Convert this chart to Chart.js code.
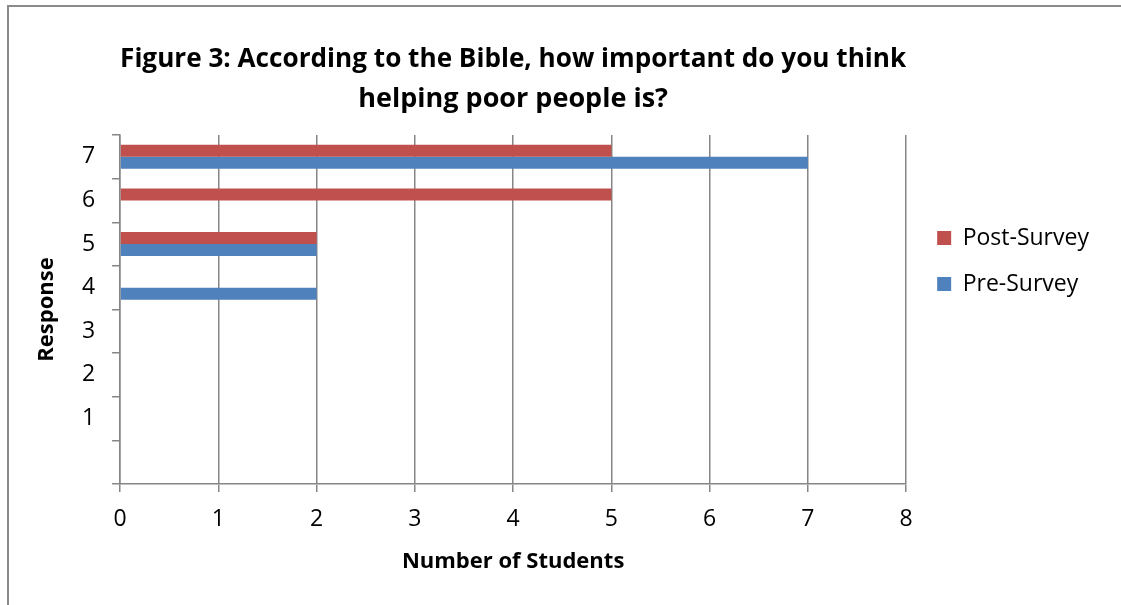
<!DOCTYPE html>
<html>
<head>
<meta charset="utf-8">
<script src="https://cdn.jsdelivr.net/npm/chart.js@4"></script>
<style>
    html, body { margin: 0; background: #fff; overflow: hidden; }
    #wrap { position: relative; width: 1121px; height: 605px; overflow: hidden; }
    #frame {
        position: absolute; left: 7px; top: 5px; width: 1130px; height: 620px;
        border-left: 2px solid #8a8a8a; border-top: 2px solid #8a8a8a;
    }
    #chart { position: absolute; left: 0; top: 0; }
</style>
</head>
<body>
<div id="wrap">
    <div id="frame"></div>
    <canvas id="chart" width="1121" height="605"></canvas>
</div>
<script>
// responses from top to bottom (last slot is an empty category)
const responses = ['7', '6', '5', '4', '3', '2', '1', ''];
const postSurvey = [5, 5, 2, 0, 0, 0, 0, 0];
const preSurvey = [7, 0, 2, 2, 0, 0, 0, 0];
const xTicksMax = 8;

const gridGrey = '#868686';
Chart.defaults.color = '#000';
Chart.defaults.font.family = "'Open Sans', sans-serif";

const ctx = document.getElementById("chart").getContext("2d");

new Chart(ctx, {
    type: 'bar',
    data: {
        labels: responses,
        datasets: [
            {
                label: 'Post-Survey',
                data: postSurvey,
                backgroundColor: '#C0504D',
                barPercentage: 1,
                categoryPercentage: 0.55
            },
            {
                label: 'Pre-Survey',
                data: preSurvey,
                backgroundColor: '#4F81BD',
                barPercentage: 1,
                categoryPercentage: 0.55
            }
        ]
    },
    options: {
        indexAxis: 'y',
        responsive: false,
        animation: false,
        layout: { padding: { left: 10, right: 26, top: 0, bottom: 0 } },
        plugins: {
            tooltip: { enabled: false },
            title: {
                display: true,
                fullSize: false,
                text: ['Figure 3: According to the Bible, how important do you think', 'helping poor people is?'],
                font: { size: 27, weight: 'bold', lineHeight: 40 / 27 },
                color: '#000',
                padding: { top: 39.5, bottom: 15.5 }
            },
            legend: {
                position: 'right',
                align: 'start',
                fullSize: false,
                title: { display: true, text: '', font: { size: 10, lineHeight: 1 }, padding: { top: 0, bottom: 58.5 } },
                labels: {
                    boxWidth: 14,
                    boxHeight: 14,
                    padding: 23,
                    font: { size: 23 },
                    color: '#000'
                }
            }
        },
        scales: {
            x: {
                min: 0,
                max: xTicksMax,
                ticks: { stepSize: 1, padding: 14, font: { size: 23 }, color: '#000' },
                grid: { color: gridGrey, lineWidth: 1.5, tickLength: 8 },
                border: { color: gridGrey, width: 1.5 },
                title: {
                    display: true,
                    text: 'Number of Students',
                    font: { size: 22, weight: 'bold' },
                    color: '#000',
                    padding: { top: 1, bottom: 30 }
                }
            },
            y: {
                ticks: { padding: 17, font: { size: 23 }, color: '#000' },
                grid: { drawOnChartArea: false, color: gridGrey, lineWidth: 1.5, tickLength: 8 },
                border: { color: gridGrey, width: 1.5 },
                title: {
                    display: true,
                    text: 'Response',
                    font: { size: 22, weight: 'bold' },
                    color: '#000',
                    padding: { top: 24, bottom: 4.5 }
                }
            },
            y2: {
                type: 'linear',
                position: 'right',
                grid: { display: false, drawTicks: false },
                border: { display: false },
                ticks: { display: false },
                afterFit: scale => { scale.width = 8; }
            }
        }
    }
});
</script>
</body>
</html>
